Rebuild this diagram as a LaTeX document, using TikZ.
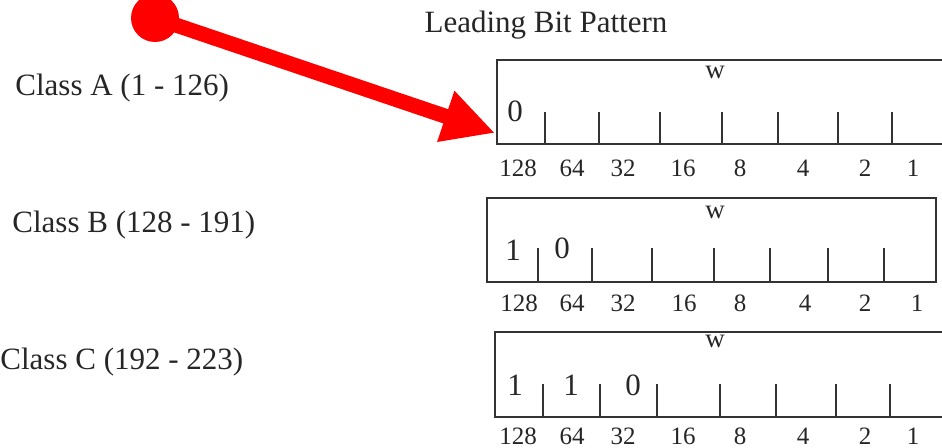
\documentclass[tikz,border=0pt]{standalone}
\usepackage{fontspec}
\setmainfont{Liberation Serif}
\usetikzlibrary{arrows.meta}

\begin{document}
\begin{tikzpicture}[x=0.5pt,y=-0.5pt,
  big/.style={font=\fontsize{15.5}{18}\selectfont,text=black!85,inner sep=0pt},
  small/.style={font=\fontsize{12.5}{14}\selectfont,text=black!85,inner sep=0pt},
  wbit/.style={font=\fontsize{13.5}{15}\selectfont,text=black!85,inner sep=0pt},
  frame/.style={draw=black!80,line width=1pt},
  bittick/.style={draw=black!80,line width=1pt}]
\useasboundingbox (0,0) rectangle (942,448);
\clip (0,0) rectangle (942,448);
\node[big] (title) at (546,25) {Leading Bit Pattern};
\node[big,anchor=west] (classA) at (15,88) {Class A (1 - 126)};
\node[big,anchor=west] (classB) at (12,225) {Class B (128 - 191)};
\node[big,anchor=west] (classC) at (0,362) {Class C (192 - 223)};
% class A
\draw[frame] (497,60) rectangle (960,144);
\foreach\x in {545,599,660,722,778,838,892}{\draw[bittick] (\x,112) -- (\x,144);};
\node[wbit] (wA) at (715,72) {w};
\node[big] (bitA1) at (515,111) {0};
\foreach\w/\x in {128/518,64/572,32/623,16/683,8/740,4/803,2/865,1/913}{\node[small] (A-\w) at (\x,168) {\w};};
% class B
\draw[frame] (487,198) rectangle (936,282);
\foreach\x in {538,592,652,714,770,828,884}{\draw[bittick] (\x,248) -- (\x,282);};
\node[wbit] (wB) at (715,212) {w};
\node[big] (bitB1) at (513,250) {1};
\node[big] (bitB2) at (562,248) {0};
\foreach\w/\x in {128/519,64/572,32/623,16/684,8/740,4/805,2/865,1/917}{\node[small] (B-\w) at (\x,303) {\w};};
% class C
\draw[frame] (495,332) rectangle (960,417);
\foreach\x in {543,600,657,720,776,836,890}{\draw[bittick] (\x,384) -- (\x,417);};
\node[wbit] (wC) at (715,341) {w};
\node[big] (bitC1) at (515,385) {1};
\node[big] (bitC2) at (571,385) {1};
\node[big] (bitC3) at (633,385) {0};
\foreach\w/\x in {128/518,64/572,32/623,16/683,8/740,4/803,2/865,1/913}{\node[small] (C-\w) at (\x,436) {\w};};
% pointer
\node[circle,fill=red,minimum size=24pt,inner sep=0pt] (dot) at (155,18) {};
\coordinate (tip) at (495,133);
\draw[red,line width=7.5pt,-{Triangle[length=26pt,width=25pt]}] (dot.center) -- (tip);
\end{tikzpicture}
\end{document}
